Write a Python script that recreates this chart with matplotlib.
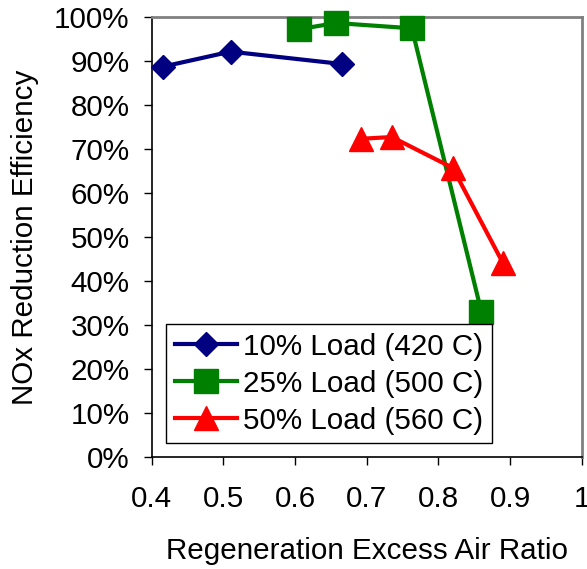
import matplotlib.pyplot as plt
from matplotlib.ticker import PercentFormatter

plt.rcParams['font.family'] = ['Liberation Sans', 'DejaVu Sans']

# data
x_10 = [0.416, 0.510, 0.665]
y_10 = [0.888, 0.922, 0.894]

x_25 = [0.606, 0.657, 0.763, 0.860]
y_25 = [0.973, 0.987, 0.975, 0.331]

x_50 = [0.692, 0.735, 0.820, 0.890]
y_50 = [0.724, 0.728, 0.658, 0.442]

labels = ['10% Load (420 C)', '25% Load (500 C)', '50% Load (560 C)']
xticks = [0.4, 0.5, 0.6, 0.7, 0.8, 0.9, 1.0]
xticklabels = ['0.4', '0.5', '0.6', '0.7', '0.8', '0.9', '1']

fs = 21.3

fig = plt.figure(figsize=(5.87, 5.69), dpi=100)
ax = fig.add_axes([0.2584, 0.196, 0.7326, 0.7736])

ax.plot(x_10, y_10, color='#000080', lw=3, marker='D', ms=12.5,
        mec='#000080', mew=1, label=labels[0], clip_on=False, zorder=3)
ax.plot(x_25, y_25, color='#008000', lw=3, marker='s', ms=17.5,
        mec='#008000', mew=1, label=labels[1], clip_on=False, zorder=3)
ax.plot(x_50, y_50, color='#FF0000', lw=3, marker='^', ms=17.5,
        mec='#FF0000', mew=1, label=labels[2], clip_on=False, zorder=3)

ax.set_xlim(0.4, 1.0)
ax.set_ylim(0, 1)
ax.set_xticks(xticks)
ax.set_xticklabels(xticklabels)
ax.set_yticks([i / 10 for i in range(11)])
ax.yaxis.set_major_formatter(PercentFormatter(1.0, decimals=0))

ax.tick_params(axis='both', direction='out', length=6, width=1,
               labelsize=fs, colors='black')
ax.tick_params(axis='x', pad=14)
ax.tick_params(axis='y', pad=10)

for s in ['left', 'bottom']:
    ax.spines[s].set_color('black')
    ax.spines[s].set_linewidth(1.2)
for s in ['top', 'right']:
    ax.spines[s].set_color('#808080')
    ax.spines[s].set_linewidth(2)

ax.set_xlabel('Regeneration Excess Air Ratio', fontsize=fs, labelpad=17)
ax.set_ylabel('NOx Reduction Efficiency', fontsize=fs, labelpad=11)

leg = ax.legend(loc='lower left', bbox_to_anchor=(0.033, 0.032),
                fontsize=fs, numpoints=1, handlelength=2.1,
                handletextpad=0.2, borderpad=0.3, labelspacing=0.3,
                borderaxespad=0, fancybox=False, framealpha=1)
leg.get_frame().set_edgecolor('black')
leg.get_frame().set_linewidth(1)

fig.savefig('out.png', dpi=100)
